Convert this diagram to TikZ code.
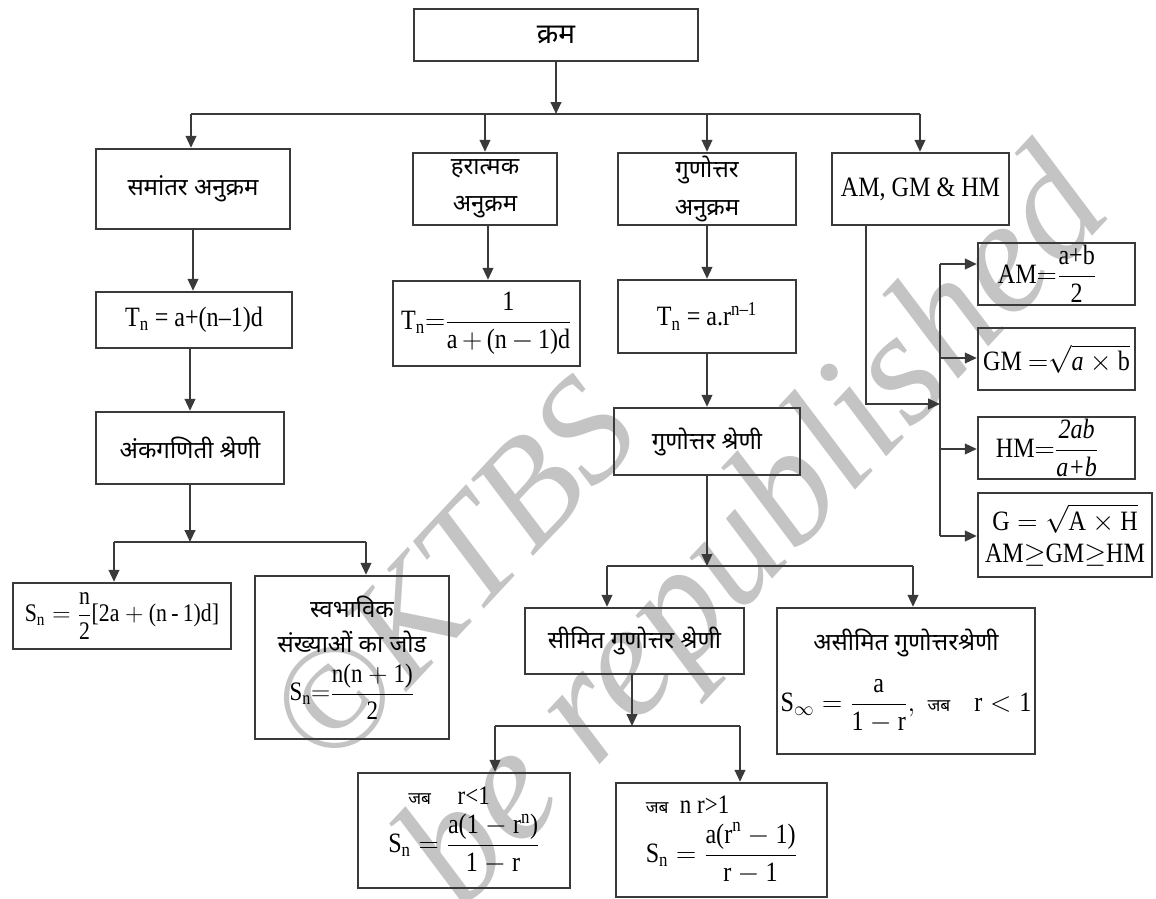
\documentclass[tikz,border=0pt]{standalone}
\usepackage{fix-cm}
\usepackage{amsmath}
\usepackage{fontspec}
\setmainfont[FakeStretch=0.86]{Liberation Serif}
\newfontfamily\dev[Script=Devanagari]{Noto Sans}
\newfontfamily\wmfont{Liberation Serif}
\usetikzlibrary{arrows.meta}
\definecolor{ink}{HTML}{3A3A3A}
\definecolor{wmgray}{HTML}{C4C4C4}
\newcommand\T[1]{\textrm{#1}}
\newcommand\fm[2][20]{{\rmfamily\fontsize{#1}{#1}\selectfont$\displaystyle #2$}}
\newcommand\jab{{\dev\fontsize{13}{15}\selectfont जब}}
\newcommand\bx[7][]{\node[box,#1,minimum width={(#5-#3)*0.75pt},minimum height={(#6-#4)*0.75pt}] (#2) at ({(#3+#5)/2},{(#4+#6)/2}) {#7};}
\tikzset{
  box/.style={draw=ink,line width=1.8pt,inner sep=1pt,align=center,text=black,font=\rmfamily\fontsize{21}{25}\selectfont},
  dvs/.style={font=\dev\fontsize{18}{28}\selectfont},
  conn/.style={draw=ink,line width=1.5pt},
  arr/.style={conn,-{Triangle[length=9pt,width=8pt]}},
  wm/.style={text=wmgray,inner sep=0pt,rotate=47},
}
\begin{document}
\begin{tikzpicture}[x=0.75pt,y=-0.75pt]
\useasboundingbox[fill=white] (0,0) rectangle (1156,899);
% watermark
\node[wm,font=\wmfont\itshape\fontsize{112}{112}\selectfont] (wm1) at (452,572) {©KTBS};
\node[wm,font=\wmfont\itshape\fontsize{122}{122}\selectfont] (wm2) at (760,535) {be republished};
% boxes
\bx[font=\dev\bfseries\fontsize{21}{24}\selectfont]{root}{414}{9}{698}{61}{क्रम}
\bx[dvs]{ap}{96}{149}{290}{229}{समांतर अनुक्रम}
\bx[dvs]{hp}{413}{153}{557}{225}{हरात्मक\\अनुक्रम}
\bx[dvs]{gp}{618}{153}{796}{225}{गुणोत्तर\\अनुक्रम}
\bx{means}{832}{153}{1009}{225}{AM, GM \& HM}
\bx{tnA}{96}{292}{292}{348}{T\textsubscript{n} = a+(n–1)d}
\bx{tnH}{393}{281}{580}{366}{\fm[21]{\T{T}_{\T{n}}{=}\dfrac{\T{1}}{\T{a}\,{+}\,\T{(n}\,{-}\,\T{1)d}}}}
\bx{tnG}{618}{280}{796}{353}{T\textsubscript{n} = a.r\textsuperscript{n–1}}
\bx[dvs]{apS}{96}{412}{284}{484}{अंकगणिती श्रेणी}
\bx[dvs]{gpS}{614}{408}{800}{475}{गुणोत्तर श्रेणी}
\bx{snA}{13}{583}{231}{649}{\fm[19]{\T{S}_{\T{n}}=\dfrac{\T{n}}{\T{2}}\T{[2a}+\T{(n}\,\T{-}\,\T{1)d]}}}
\bx[font=\dev\fontsize{18}{26}\selectfont]{nat}{255}{576}{449}{739}{स्वभाविक\\संख्याओं का जोड\\[8pt]\fm[20]{\T{S}_{\T{n}}{=}\dfrac{\T{n(n}+\T{1)}}{\T{2}}}}
\bx{am}{978}{243}{1135}{305}{\fm[21]{\T{AM}{=}\dfrac{\T{a+b}}{\T{2}}}\hspace*{14pt}}
\bx{gm}{978}{328}{1135}{390}{\fm[21]{\T{GM}\ {=}\sqrt{\textit{a}\times\T{b}}}}
\bx{hm}{978}{417}{1135}{479}{\fm[21]{\T{HM}{=}\dfrac{\textit{2ab}}{\textit{a+b}}}\hspace*{14pt}}
\bx[font=\rmfamily\fontsize{21}{24}\selectfont]{gh}{978}{493}{1152}{577}{\fm[21]{\T{G}=\sqrt{\T{A}\times\T{H}}}\\\fm[21]{\T{AM}{\geq}\T{GM}{\geq}\T{HM}}}
\bx[dvs]{fin}{525}{608}{744}{674}{सीमित गुणोत्तर श्रेणी}
\bx[font=\dev\fontsize{18}{24}\selectfont]{inf}{777}{608}{1035}{754}{असीमित गुणोत्तरश्रेणी\\[16pt]\fm[21]{\T{S}_{\infty}=\dfrac{\T{a}}{\T{1}-\T{r}},}\ \ \jab\quad\fm[21]{\T{r}<\T{1}}}
\bx[font=\rmfamily\fontsize{20}{22}\selectfont,align=left]{f1}{358}{773}{570}{888}{\hspace*{15pt}\jab\quad r<1\\[6pt]\fm[21]{\T{S}_{\T{n}}=\dfrac{\T{a(1}-\T{r}^{\T{n}}\T{)}}{\T{1}-\T{r}}}}
\bx[font=\rmfamily\fontsize{20}{22}\selectfont,align=left]{f2}{616}{783}{827}{897}{\jab\ \ n r>1\\[6pt]\fm[21]{\T{S}_{\T{n}}=\dfrac{\T{a(r}^{\T{n}}-\T{1)}}{\T{r}-\T{1}}}}
% bus junctions
\coordinate (t0) at (556,114);
\coordinate (tL) at (191,114);
\coordinate (tH) at (485,114);
\coordinate (tG) at (707,114);
\coordinate (tR) at (920,114);
\coordinate (hX) at (488,0);
\coordinate (aB) at (190,542);
\coordinate (aL) at (114,542);
\coordinate (aR) at (366,542);
\coordinate (gB) at (707,566);
\coordinate (gL) at (607,566);
\coordinate (gR) at (913,566);
\coordinate (fB) at (632,726);
\coordinate (fL) at (495,726);
\coordinate (fR) at (740,726);
\coordinate (mD) at (866,404);
\coordinate (mB) at (940,404);
\coordinate (rT) at (940,264);
\coordinate (rG) at (940,358);
\coordinate (rH) at (940,449);
\coordinate (rE) at (940,536);
% connectors
\draw[arr] (root.south) -- (t0);
\draw[conn] (tL) -- (tR);
\draw[arr] (tL) -- (tL |- ap.north);
\draw[arr] (tH) -- (tH |- hp.north);
\draw[arr] (tG) -- (tG |- gp.north);
\draw[arr] (tR) -- (tR |- means.north);
\draw[arr] (ap.south) -- (ap.south |- tnA.north);
\draw[arr] (hX |- hp.south) -- (hX |- tnH.north);
\draw[arr] (gp.south) -- (gp.south |- tnG.north);
\draw[arr] (tnA.south -| apS.north) -- (apS.north);
\draw[arr] (tnG.south) -- (tnG.south |- gpS.north);
\draw[arr] (apS.south) -- (aB);
\draw[conn] (aL) -- (aR);
\draw[arr] (aL) -- (aL |- snA.north);
\draw[arr] (aR) -- (aR |- nat.north);
\draw[arr] (gpS.south) -- (gB);
\draw[conn] (gL) -- (gR);
\draw[arr] (gL) -- (gL |- fin.north);
\draw[arr] (gR) -- (gR |- inf.north);
\draw[arr] (fin.south -| fB) -- (fB);
\draw[conn] (fL) -- (fR);
\draw[arr] (fL) -- (fL |- f1.north);
\draw[arr] (fR) -- (fR |- f2.north);
\draw[arr] (means.south -| mD) -- (mD) -- (mB);
\draw[conn] (rT) -- (rE);
\draw[arr] (rT) -- (rT -| am.west);
\draw[arr] (rG) -- (rG -| gm.west);
\draw[arr] (rH) -- (rH -| hm.west);
\draw[arr] (rE) -- (rE -| gh.west);
\end{tikzpicture}
\end{document}
